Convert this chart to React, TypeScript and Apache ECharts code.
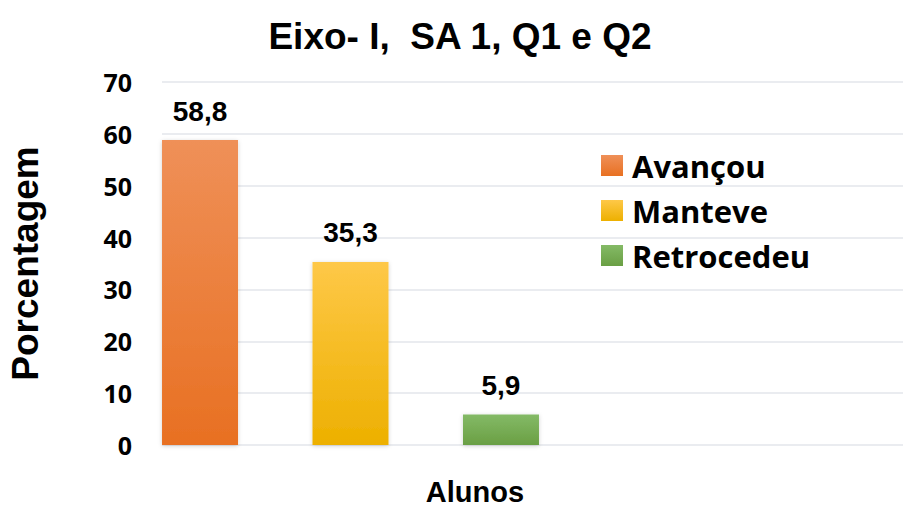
import React, { useEffect, useRef } from "react";
import * as echarts from "echarts";

const titleText = "Eixo- I,  SA 1, Q1 e Q2";
const categoryName = "Alunos";
const yName = "Porcentagem";
const seriesNames = ["Avançou", "Manteve", "Retrocedeu"];
const seriesValues = [58.8, 35.3, 5.9];
const yMin = 0;
const yMax = 70;
const yInterval = 10;

const gradients = [
  ["#EF9058", "#E87022"],
  ["#FEC848", "#EDB000"],
  ["#84BA66", "#6A9F44"],
];

function grad(top: string, bottom: string) {
  return new echarts.graphic.LinearGradient(0, 0, 0, 1, [
    { offset: 0, color: top },
    { offset: 1, color: bottom },
  ]);
}

export default function App() {
  const ref = useRef<HTMLDivElement>(null);
  useEffect(() => {
    if (!ref.current) return;
    const chart = echarts.init(ref.current, undefined, { renderer: "svg" });
    const gridColor = "#E3E6EB";
    const option: any = {
      animation: false,
      backgroundColor: "#FFFFFF",
      title: [
        {
          text: titleText,
          left: 455,
          top: 13,
          textAlign: "center",
          textStyle: {
            fontFamily: "Liberation Sans, Arial, sans-serif",
            fontWeight: "bold",
            fontSize: 37,
            color: "#000",
          },
        },
        {
          text: categoryName,
          left: 475,
          top: 477,
          textAlign: "center",
          padding: 0,
          textStyle: {
            fontFamily: "Liberation Sans, Arial, sans-serif",
            fontWeight: "bold",
            fontSize: 29,
            lineHeight: 29,
            color: "#000",
          },
        },
      ],
      legend: {
        orient: "vertical",
        left: 596,
        top: 145,
        itemWidth: 22,
        itemHeight: 21,
        itemGap: 14,
        icon: "rect",
        data: seriesNames,
        textStyle: {
          fontFamily: "Open Sans, Lato, sans-serif",
          fontWeight: "bold",
          fontSize: 31,
          color: "#000",
          padding: [0, 0, 0, 4],
        },
      },
      grid: [
        { left: 162, right: 364, top: 82, bottom: 68 },
        { left: 162, right: 0, top: 82, bottom: 68 },
      ],
      xAxis: [
        {
          type: "category",
          gridIndex: 0,
          data: [categoryName],
          axisLine: { show: false },
          axisTick: { show: false },
          axisLabel: { show: false },
        },
        {
          type: "category",
          gridIndex: 1,
          data: [""],
          axisLine: { show: false },
          axisTick: { show: false },
          axisLabel: { show: false },
        },
      ],
      yAxis: [
        {
          type: "value",
          gridIndex: 0,
          min: yMin,
          max: yMax,
          interval: yInterval,
          splitLine: { show: false },
          axisLine: { show: false },
          axisTick: { show: false },
          axisLabel: {
            margin: 30,
            fontFamily: "Open Sans, Lato, sans-serif",
            fontWeight: "bold",
            fontSize: 25,
            color: "#000",
          },
          name: yName,
          nameLocation: "middle",
          nameGap: 118,
          nameTextStyle: {
            fontFamily: "Liberation Sans, Arial, sans-serif",
            fontWeight: "bold",
            fontSize: 37,
            color: "#000",
          },
        },
        {
          type: "value",
          gridIndex: 1,
          min: yMin,
          max: yMax,
          interval: yInterval,
          axisLine: { show: false },
          axisTick: { show: false },
          axisLabel: { show: false },
          splitLine: { show: true, lineStyle: { color: gridColor, width: 1.5 } },
        },
      ],
      series: seriesNames.map((name, i) => ({
        name,
        type: "bar",
        xAxisIndex: 0,
        yAxisIndex: 0,
        barWidth: 76,
        barGap: "98%",
        data: [seriesValues[i]],
        itemStyle: {
          color: grad(gradients[i][0], gradients[i][1]),
          shadowColor: "rgba(0,0,0,0.18)",
          shadowBlur: 4,
          shadowOffsetY: 1,
        },
        label: {
          show: true,
          position: "top",
          distance: 15,
          formatter: (p: any) => String(p.value).replace(".", ","),
          fontFamily: "Liberation Sans, Arial, sans-serif",
          fontWeight: "bold",
          fontSize: 28,
          color: "#000",
        },
      })),
    };
    chart.setOption(option);
    return () => chart.dispose();
  }, []);
  return (
    <div
      ref={ref}
      style={{ position: "fixed", left: 0, top: 0, width: 903, height: 513 }}
    />
  );
}
